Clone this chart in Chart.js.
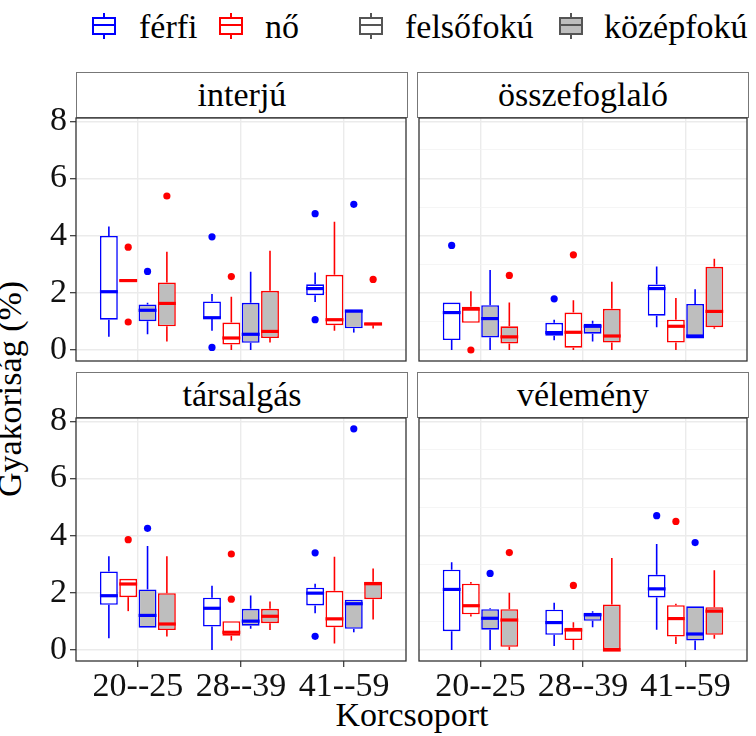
<!DOCTYPE html>
<html>
<head>
<meta charset="utf-8">
<script src="https://cdn.jsdelivr.net/npm/chart.js@4.4.1/dist/chart.umd.min.js"></script>
<style>
  body { margin: 0; width: 756px; height: 736px; background: #fff; position: relative; overflow: hidden;
         font-family: 'Liberation Serif', 'Times New Roman', serif; color: #000; }
  .panel { position: absolute; }
  .strip { position: absolute; width: 332px; height: 46px; box-sizing: border-box; border: 1px solid #777;
           background: #fff; font-size: 34px; line-height: 44px; text-align: center; }
  .txt { position: absolute; font-size: 34px; line-height: 34px; white-space: nowrap; }
  .key { position: absolute; top: 13px; width: 24px; height: 26px; }
  .key .wh { position: absolute; left: 11px; top: 0; width: 2px; height: 26px; background: currentColor; }
  .key .bx { position: absolute; left: 0; top: 4px; width: 24px; height: 18px; box-sizing: border-box;
             border: 2px solid currentColor; background: #fff; }
  .key .bx::after { content: ''; position: absolute; left: 0; right: 0; top: 5px; height: 2px; background: currentColor; }
</style>
</head>
<body>
<div id="root"></div>
<script>
// age groups on the x axis, box groups (sex x education), facet titles
const ageGroups   = ['20--25', '28--39', '41--59'];
const groupNames  = ['férfi felsőfokú', 'nő felsőfokú', 'férfi középfokú', 'nő középfokú'];
const panelTitles = ['interjú', 'összefoglaló', 'társalgás', 'vélemény'];
const yTicks      = [0, 1, 2, 3, 4, 5, 6, 7, 8];

// [whisker low, q1, median, q3, whisker high] per group, per age group
const interjuBoxes = [
  [[0.46, 1.06, 2.04, 3.99, 4.32], [0.67, 1.10, 1.13, 1.70, 1.96], [1.68, 1.92, 2.15, 2.30, 2.71]],
  [[2.40, 2.40, 2.43, 2.46, 2.46], [0.00, 0.19, 0.42, 0.96, 1.86], [0.67, 0.87, 1.06, 2.63, 4.49]],
  [[0.55, 1.01, 1.39, 1.59, 1.65], [0.00, 0.25, 0.55, 1.65, 2.74], [0.61, 0.76, 1.36, 1.42, 1.42]],
  [[0.30, 0.83, 1.63, 2.36, 3.44], [0.26, 0.42, 0.65, 2.07, 3.47], [0.75, 0.87, 0.91, 0.96, 0.96]],
];
const interjuOutliers = [
  [[], [3.96, 0.09], [4.77, 1.06]],
  [[3.60, 0.98], [2.57], []],
  [[2.75], [], [5.10]],
  [[5.39], [], [2.47]],
];

const osszefoglaloBoxes = [
  [[0.00, 0.35, 1.31, 1.66, 1.66], [0.34, 0.50, 0.61, 0.95, 1.06], [0.80, 1.20, 2.15, 2.29, 2.92]],
  [[0.95, 0.95, 1.43, 1.51, 2.06], [0.00, 0.08, 0.62, 1.31, 1.74], [0.00, 0.26, 0.83, 1.06, 1.82]],
  [[0.00, 0.44, 1.10, 1.57, 2.80], [0.30, 0.57, 0.83, 0.92, 1.02], [0.40, 0.40, 0.49, 1.61, 2.13]],
  [[0.00, 0.23, 0.46, 0.83, 1.66], [0.00, 0.26, 0.49, 1.44, 2.39], [0.74, 0.80, 1.35, 2.91, 3.19]],
];
const osszefoglaloOutliers = [
  [[3.66], [1.79], []],
  [[0.00], [3.33], []],
  [[], [], []],
  [[2.61], [], []],
];

const tarsalgasBoxes = [
  [[0.41, 1.58, 1.90, 2.75, 3.28], [0.00, 0.82, 1.46, 1.83, 2.25], [1.29, 1.56, 1.99, 2.18, 2.32]],
  [[1.36, 1.85, 2.31, 2.49, 2.49], [0.33, 0.50, 0.62, 1.01, 1.01], [0.23, 0.80, 1.09, 2.07, 3.26]],
  [[0.78, 0.78, 1.21, 2.12, 3.64], [0.74, 0.85, 1.01, 1.44, 1.91], [0.62, 0.74, 1.62, 1.76, 1.76]],
  [[0.47, 0.70, 0.91, 1.99, 3.28], [0.70, 0.94, 1.18, 1.44, 1.70], [1.07, 1.78, 2.32, 2.39, 2.85]],
];
const tarsalgasOutliers = [
  [[], [], [3.40, 0.48]],
  [[3.86], [3.36, 1.78], []],
  [[4.26], [], [7.74]],
  [[], [], []],
];

const velemenyBoxes = [
  [[0.00, 0.66, 2.12, 2.81, 3.07], [0.14, 0.53, 0.96, 1.41, 1.65], [0.71, 1.84, 2.14, 2.63, 3.71]],
  [[1.17, 1.25, 1.55, 2.32, 2.38], [0.00, 0.35, 0.70, 0.78, 0.97], [0.21, 0.47, 1.10, 1.57, 1.62]],
  [[0.00, 0.71, 1.11, 1.43, 1.46], [0.80, 1.02, 1.23, 1.30, 1.36], [0.00, 0.33, 0.56, 1.53, 1.53]],
  [[0.00, 0.11, 1.05, 1.43, 2.00], [0.00, 0.00, 0.00, 1.59, 3.22], [0.39, 0.53, 1.36, 1.50, 2.79]],
];
const velemenyOutliers = [
  [[], [], [4.70]],
  [[], [2.26], [4.50]],
  [[2.68], [], [3.76]],
  [[3.41], [], []],
];

const panelBoxes    = [interjuBoxes, osszefoglaloBoxes, tarsalgasBoxes, velemenyBoxes];
const panelOutliers = [interjuOutliers, osszefoglaloOutliers, tarsalgasOutliers, velemenyOutliers];

const LINE  = ['#0000FF', '#FF0000', '#0000FF', '#FF0000'];
const FILL  = ['#FFFFFF', '#FFFFFF', '#BEBEBE', '#BEBEBE'];
const FONT  = "'Liberation Serif', 'Times New Roman', serif";
const CAT_PCT = 0.75;
const dodge = [-1.5, -0.5, 0.5, 1.5].map(k => k * CAT_PCT / groupNames.length);

// whiskers under the boxes, medians and the panel frame on top
const boxplotPlugin = {
  id: 'boxplot',
  beforeDatasetsDraw(chart) {
    const { ctx, scales: { y } } = chart;
    ctx.save();
    chart.data.datasets.forEach((ds, di) => {
      if (!ds.stats) return;
      chart.getDatasetMeta(di).data.forEach((bar, i) => {
        const [lo, q1, , q3, hi] = ds.stats[i];
        ctx.strokeStyle = ds.borderColor;
        ctx.lineWidth = 1.6;
        ctx.beginPath();
        ctx.moveTo(bar.x, y.getPixelForValue(q3)); ctx.lineTo(bar.x, y.getPixelForValue(hi));
        ctx.moveTo(bar.x, y.getPixelForValue(q1)); ctx.lineTo(bar.x, y.getPixelForValue(lo));
        ctx.stroke();
      });
    });
    ctx.restore();
  },
  afterDatasetsDraw(chart) {
    const { ctx, chartArea: a, scales: { y } } = chart;
    ctx.save();
    chart.data.datasets.forEach((ds, di) => {
      if (!ds.stats) return;
      chart.getDatasetMeta(di).data.forEach((bar, i) => {
        const py = y.getPixelForValue(ds.stats[i][2]);
        ctx.strokeStyle = ds.borderColor;
        ctx.lineWidth = 3.2;
        ctx.beginPath();
        ctx.moveTo(bar.x - bar.width / 2, py); ctx.lineTo(bar.x + bar.width / 2, py);
        ctx.stroke();
      });
    });
    ctx.strokeStyle = '#333';
    ctx.lineWidth = 1.3;
    ctx.strokeRect(a.left, a.top, a.right - a.left, a.bottom - a.top);
    ctx.restore();
  },
};

function renderPanel(p) {
  const left = p % 2 === 0, bottom = p > 1;
  const boxes = panelBoxes[p], outliers = panelOutliers[p];
  const plotTop = bottom ? 418 : 118;
  const box = { x: left ? 30 : 415, y: plotTop - 26, w: left ? 380 : 336, h: 26 + 243 + (bottom ? 50 : 24) };

  const root = document.getElementById('root');
  root.insertAdjacentHTML('beforeend', `
    <div class="strip" style="left:${left ? 76 : 417}px;top:${plotTop - 46}px">${panelTitles[p]}</div>
    <div class="panel" style="left:${box.x}px;top:${box.y}px;width:${box.w}px;height:${box.h}px"><canvas id="panel${p}"></canvas></div>`);

  const datasets = [
    ...groupNames.map((name, g) => ({
      type: 'bar', label: name, stats: boxes[g],
      data: ageGroups.map((_, i) => ({ x: i + 1, y: [boxes[g][i][1], boxes[g][i][3]] })),
      backgroundColor: FILL[g], borderColor: LINE[g], borderWidth: 1.6, borderSkipped: false,
      categoryPercentage: CAT_PCT, barPercentage: 0.925,
    })),
    ...groupNames.map((name, g) => ({
      type: 'scatter', label: name + ' kiugró',
      data: outliers[g].flatMap((vals, i) => vals.map(v => ({ x: i + 1 + dodge[g], y: v }))),
      pointRadius: 3.6, pointBorderWidth: 0, pointBackgroundColor: LINE[g], borderColor: LINE[g],
    })),
  ];

  new Chart(document.getElementById(`panel${p}`), {
    type: 'bar',
    data: { datasets },
    plugins: [boxplotPlugin],
    options: {
      responsive: true, maintainAspectRatio: false, animation: false, events: [],
      layout: { padding: { top: 26, left: left ? 0 : 2, right: 2, bottom: bottom ? 0 : 24 } },
      plugins: { legend: { display: false }, tooltip: { enabled: false } },
      scales: {
        x: {
          type: 'linear', min: 0.4, max: 3.6, offset: false,
          afterBuildTicks: s => { s.ticks = ageGroups.map((_, i) => ({ value: i + 1 })); },
          afterFit: s => { s.height = bottom ? 50 : 0; },
          border: { display: false },
          grid: { offset: false, color: '#EBEBEB', lineWidth: 1.4, drawTicks: bottom, tickLength: 6, tickColor: '#333', tickWidth: 1.2 },
          ticks: { display: bottom, autoSkip: false, maxRotation: 0, padding: 0, color: '#111',
                   font: { family: FONT, size: 34 }, callback: (v, i) => ageGroups[i] },
        },
        y: {
          type: 'linear', min: -0.385, max: 8.12, stacked: false,
          afterBuildTicks: s => { s.ticks = yTicks.map(v => ({ value: v })); },
          afterFit: s => { s.width = left ? 46 : 0; },
          border: { display: false },
          grid: {
            color: c => c.tick.value % 2 ? '#F2F2F2' : '#EBEBEB',
            lineWidth: c => c.tick.value % 2 ? 0.8 : 1.4,
            drawTicks: left, tickLength: 6, tickWidth: 1.2,
            tickColor: c => c.tick.value % 2 ? 'rgba(0,0,0,0)' : '#333',
          },
          ticks: { display: left, padding: 3, color: '#111', font: { family: FONT, size: 34 },
                   callback: v => v % 2 ? '' : v },
        },
      },
    },
  });
}

function renderLegend() {
  const keys = [
    { x: 92,  color: LINE[0], fill: '#fff' },
    { x: 219, color: LINE[1], fill: '#fff' },
    { x: 359, color: '#555',  fill: '#fff' },
    { x: 559, color: '#555',  fill: '#BEBEBE' },
  ];
  const labels = [['férfi', 139], ['nő', 265], ['felsőfokú', 405], ['középfokú', 604]];
  document.getElementById('root').insertAdjacentHTML('beforeend', `
    ${keys.map(k => `<span class="key" style="left:${k.x}px;color:${k.color}"><i class="wh"></i><i class="bx" style="background:${k.fill}"></i></span>`).join('')}
    ${labels.map(([t, x]) => `<div class="txt" style="left:${x}px;top:10px">${t}</div>`).join('')}
    <div class="txt" style="left:262px;top:698px;width:300px;text-align:center">Korcsoport</div>
    <div class="txt" style="left:-140px;top:372px;width:300px;text-align:center;transform:rotate(-90deg)">Gyakoriság (%)</div>`);
}

renderLegend();
[0, 1, 2, 3].forEach(renderPanel);
</script>
</body>
</html>
